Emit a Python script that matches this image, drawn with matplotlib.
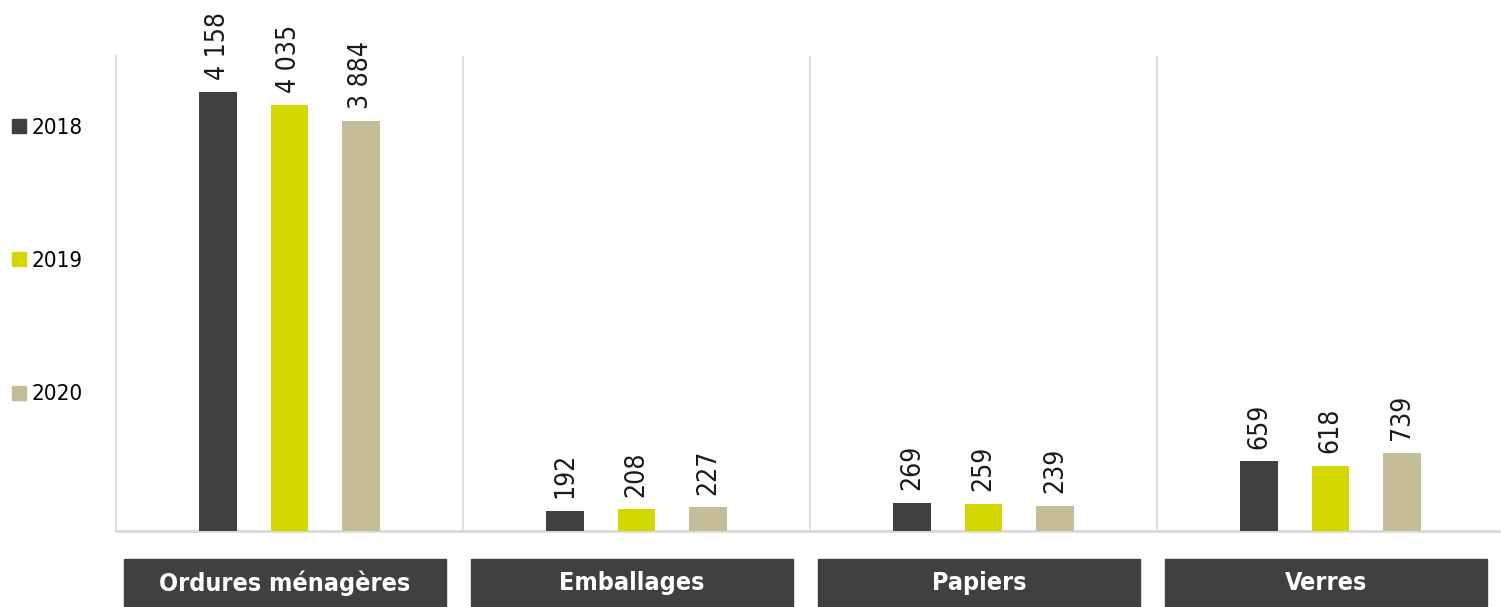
import matplotlib
matplotlib.use('Agg')
import matplotlib.pyplot as plt
from matplotlib.patches import Rectangle
from matplotlib.transforms import blended_transform_factory
from matplotlib.lines import Line2D

categories = ['Ordures ménagères', 'Emballages', 'Papiers', 'Verres']
years = ['2018', '2019', '2020']
values_2018 = [4158, 192, 269, 659]
values_2019 = [4035, 208, 259, 618]
values_2020 = [3884, 227, 239, 739]
colors = ['#404040', '#d3d800', '#c5bd98']

plt.rcParams['font.family'] = ['DejaVu Sans']
plt.rcParams['font.stretch'] = 'condensed'

fig = plt.figure(figsize=(15.01, 6.07), dpi=100)
ax = fig.add_axes([116 / 1501, 76 / 607, 1388 / 1501, 475 / 607])

series = [values_2018, values_2019, values_2020]
offsets = [-0.206, 0, 0.206]
for vals, off, col in zip(series, offsets, colors):
    xs = [i + off for i in range(len(categories))]
    bars = ax.bar(xs, vals, width=0.107, color=col, zorder=3)
    for b, v in zip(bars, vals):
        txt = '{:,}'.format(v).replace(',', ' ')
        ax.annotate(txt, (b.get_x() + b.get_width() / 2, v), xytext=(0, 9),
                    textcoords='offset points', rotation=90, ha='center',
                    va='bottom', fontsize=19, color='#1a1a1a')

ax.set_xlim(-0.5, 3.5)
ax.set_ylim(0, 4500)
for x in [0.5, 1.5, 2.5]:
    ax.axvline(x, color='#d9d9d9', lw=1.2, zorder=1)
for s in ['top', 'right']:
    ax.spines[s].set_visible(False)
ax.spines['left'].set_color('#d9d9d9')
ax.spines['left'].set_linewidth(1.2)
ax.spines['bottom'].set_color('#d9d9d9')
ax.spines['bottom'].set_linewidth(2)
ax.set_xticks([])
ax.set_yticks([])

# category boxes under the axis
trans = blended_transform_factory(ax.transData, ax.transAxes)
for i, cat in enumerate(categories):
    rect = Rectangle((i - 0.478, -0.165), 0.93, 0.106, transform=trans,
                     color='#404040', clip_on=False)
    ax.add_patch(rect)
    ax.text(i - 0.013, -0.11, cat, transform=trans, ha='center', va='center',
            color='white', fontsize=18, fontweight='bold')

handles = [Line2D([], [], marker='s', linestyle='none', markersize=10,
                  color=c) for c in colors]
fig.legend(handles, years, loc='upper left', bbox_to_anchor=(0.0, 0.82),
           frameon=False, fontsize=16, labelspacing=5.09, handletextpad=0.1,
           handlelength=0.9, borderaxespad=0)

fig.savefig('out.png', dpi=100)
